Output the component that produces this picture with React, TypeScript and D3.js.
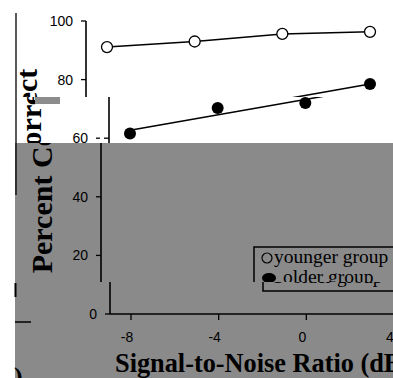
import React from 'react'
import * as d3 from 'd3'

const snr = [-8, -4, 0, 4]
const younger = [91.1, 93.0, 95.6, 96.3]
const older = [61.6, 70.3, 72.0, 78.5]
const yTicks = [0, 20, 40, 60, 80, 100]
const xTicks = [-8, -4, 0, 4]
const legendLabels = ['younger group', 'older group']
const yTitle = 'Percent Correct'
const xTitle = 'Signal-to-Noise Ratio (dB)'

const W = 393
const H = 378
const GRAY = '#8a8a8a'
const SANS = '"Liberation Sans", Arial, sans-serif'
const SERIF = '"Liberation Serif", "Times New Roman", serif'

const x = d3.scaleLinear().domain([-8, 4]).range([131, 394])
const y = d3.scaleLinear().domain([0, 100]).range([314, 21])

// least squares trend line for the older group
const mx = d3.mean(snr) as number
const my = d3.mean(older) as number
const slope =
  d3.sum(snr, (v, i) => (v - mx) * (older[i] - my)) /
  d3.sum(snr, (v) => (v - mx) ** 2)
const fit = (v: number) => my + slope * (v - mx)

const youngerPath = d3
  .line<number>()
  .x((_, i) => x(snr[i]))
  .y((d) => y(d))(younger)

// the scan is sliced into strips that are shifted sideways
const strips = [
  { id: 'a', r: [0, 0, W, 97], dx: -24, bg: '#fff' },
  { id: 'b1', r: [0, 97, 60, 46], dx: -20, bg: '#fff' },
  { id: 'b2', r: [60, 97, 40, 46], dx: -9, bg: '#fff' },
  { id: 'b3', r: [100, 97, W - 100, 46], dx: -1, bg: '#fff' },
  { id: 'c', r: [15, 143, W - 15, 139], dx: -9, bg: GRAY },
  { id: 'd', r: [15, 282, W - 15, 96], dx: 0, bg: GRAY },
]

const Chart = () => (
  <g>
    {/* y axis */}
    <line x1={110} x2={110} y1={y(100)} y2={y(0)} stroke="#000" strokeWidth={1.6} />
    {yTicks.map((t) => (
      <g key={t} transform={`translate(0,${y(t)})`}>
        <line x1={105} x2={110} stroke="#000" strokeWidth={1.3} />
        <text x={97} dy="0.36em" textAnchor="end" fontFamily={SANS} fontSize={14}>
          {t}
        </text>
      </g>
    ))}
    {/* x axis */}
    <line x1={110} x2={410} y1={y(0)} y2={y(0)} stroke="#000" strokeWidth={1.6} />
    {xTicks.map((t) => (
      <g key={t} transform={`translate(${x(t)},0)`}>
        <line y1={y(0)} y2={y(0) + 6} stroke="#000" strokeWidth={1.3} />
        <text x={-4} y={342} textAnchor="middle" fontFamily={SANS} fontSize={14}>
          {t}
        </text>
      </g>
    ))}
    <text x={115} y={372} fontFamily={SERIF} fontWeight="bold" fontSize={26.3}>
      {xTitle}
    </text>
    <text
      transform="translate(61,171) rotate(-90)"
      textAnchor="middle"
      fontFamily={SERIF}
      fontWeight="bold"
      fontSize={30}
    >
      {yTitle}
    </text>

    {/* series */}
    <path d={youngerPath ?? ''} fill="none" stroke="#000" strokeWidth={1.5} />
    <line
      x1={x(-8)}
      y1={y(fit(-8))}
      x2={x(4)}
      y2={y(fit(4))}
      stroke="#000"
      strokeWidth={1.5}
    />
    {younger.map((v, i) => (
      <circle key={`y${i}`} cx={x(snr[i])} cy={y(v)} r={5.5} fill="#fff" stroke="#000" strokeWidth={1.3} />
    ))}
    {older.map((v, i) => (
      <circle key={`o${i}`} cx={x(snr[i])} cy={y(v)} r={6} fill="#000" />
    ))}

    {/* legend */}
    <path d="M410,247H263V291H410" fill="none" stroke="#000" strokeWidth={1.5} />
    <circle cx={276} cy={258} r={5} fill="none" stroke="#000" strokeWidth={1.2} />
    <text x={283} y={263} fontFamily={SERIF} fontSize={19.5}>
      {legendLabels[0]}
    </text>
    <ellipse cx={278} cy={278} rx={7} ry={5} fill="#000" />
    <text x={292} y={283} fontFamily={SERIF} fontSize={19.5}>
      {legendLabels[1]}
    </text>
  </g>
)

const App = () => (
  <svg
    width={W}
    height={H}
    style={{ position: 'absolute', left: 0, top: 0, background: '#fff' }}
  >
    <defs>
      {strips.map((s) => (
        <clipPath key={s.id} id={`clip-${s.id}`}>
          <rect x={s.r[0]} y={s.r[1]} width={s.r[2]} height={s.r[3]} />
        </clipPath>
      ))}
    </defs>
    {strips.map((s) => (
      <g key={s.id} clipPath={`url(#clip-${s.id})`}>
        <rect x={s.r[0]} y={s.r[1]} width={s.r[2]} height={s.r[3]} fill={s.bg} />
        <g transform={`translate(${s.dx},0)`}>
          <Chart />
        </g>
      </g>
    ))}
    {/* leftover pieces of the scan */}
    <rect x={35} y={97} width={25} height={7} fill="#8c8c8c" />
    <line x1={16} x2={16} y1={13} y2={195} stroke="#000" strokeWidth={1.3} />
    <line x1={15.5} x2={15.5} y1={283} y2={297} stroke="#000" strokeWidth={2} />
    <line x1={15} x2={31} y1={322} y2={322} stroke="#000" strokeWidth={1.5} />
    <text x={14} y={385} fontFamily={SERIF} fontWeight="bold" fontSize={26}>
      )
    </text>
  </svg>
)

export default App
